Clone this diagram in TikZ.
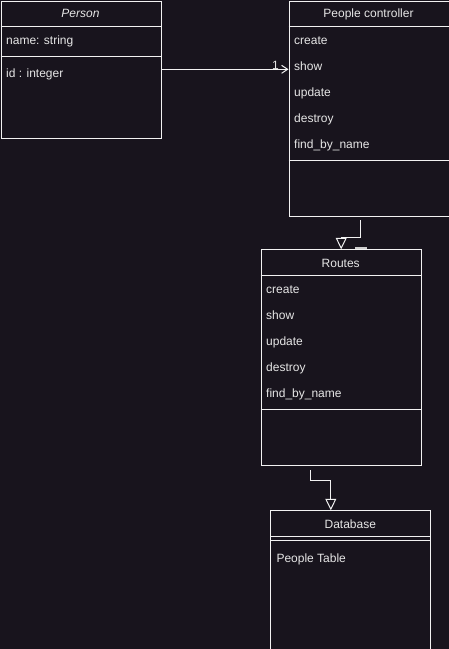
\documentclass[tikz,border=0pt]{standalone}
\usepackage{fontspec}
\setmainfont{Liberation Sans}
\usetikzlibrary{arrows.meta}
\definecolor{bg}{HTML}{18141D}
\definecolor{ln}{HTML}{F2F2F2}
\definecolor{tx}{HTML}{E6E6E6}
\definecolor{mk}{HTML}{CFCFCF}
\tikzset{
  umlbox/.style={draw=ln, line width=1pt, rectangle, inner sep=0pt, anchor=north west},
  sep/.style={draw=ln, line width=1pt},
  itemtxt/.style={text=tx, font=\fontsize{12}{14}\selectfont, inner sep=0pt, anchor=base west},
  titletxt/.style={text=tx, font=\fontsize{12}{14}\selectfont, inner sep=0pt, anchor=base},
  gen/.style={draw=ln, line width=1pt, -{Triangle[open, length=11.5pt, width=11pt, line width=1pt]}},
  assoc/.style={draw=ln, line width=1pt, -{Straight Barb[length=6pt, width=8pt, line width=1pt]}}
}
\begin{document}
\begin{tikzpicture}[x=1pt, y=-1pt]
\fill[bg] (0,0) rectangle (449,649);
\useasboundingbox (0,0) rectangle (449,649);

% Person
\node[umlbox, minimum width=160pt, minimum height=137.5pt] (person) at (0.5,0.5) {};
\draw[sep] (0.5,26.3) -- (160.5,26.3);
\draw[sep] (0.5,56.3) -- (160.5,56.3);
\node[titletxt, font=\fontsize{12}{14}\selectfont\itshape] (personT) at (80.5,17.6) {Person};
\node[itemtxt] (pname) at (6,44) {name: string};
\node[itemtxt] (pid) at (6,77.3) {id : integer};

% People controller
\node[umlbox, minimum width=160pt, minimum height=215.8pt] (pc) at (288.5,0.5) {};
\draw[sep] (288.5,26.3) -- (448.5,26.3);
\draw[sep] (288.5,160.3) -- (448.5,160.3);
\node[titletxt] (pcT) at (368.5,17.6) {People controller};
\node[itemtxt] (pc1) at (294,44.3) {create};
\node[itemtxt] (pc2) at (294,70.3) {show};
\node[itemtxt] (pc3) at (294,96.3) {update};
\node[itemtxt] (pc4) at (294,122.3) {destroy};
\node[itemtxt] (pc5) at (294,148.3) {find\_by\_name};

% Routes
\node[umlbox, minimum width=160pt, minimum height=216pt] (routes) at (260.7,249.3) {};
\draw[sep] (260.7,275.3) -- (420.7,275.3);
\draw[sep] (260.7,409.3) -- (420.7,409.3);
\node[titletxt] (routesT) at (340.7,267) {Routes};
\node[itemtxt] (r1) at (266,293) {create};
\node[itemtxt] (r2) at (266,319) {show};
\node[itemtxt] (r3) at (266,345) {update};
\node[itemtxt] (r4) at (266,371) {destroy};
\node[itemtxt] (r5) at (266,397) {find\_by\_name};

% Database
\node[umlbox, minimum width=160pt, minimum height=142pt] (db) at (270.3,510.3) {};
\draw[sep] (270.3,536) -- (430.3,536);
\draw[sep] (270.3,540) -- (430.3,540);
\node[titletxt] (dbT) at (350.3,528.3) {Database};
\node[itemtxt] (db1) at (276.3,562) {People Table};

% small mark above Routes
\fill[mk] (354.5,247) rectangle (366.5,249.3);

% connectors
\draw[assoc] ([yshift=-68.8pt]person.north east) -- ([yshift=-68.8pt]pc.north west);
\node[text=tx, font=\fontsize{12}{14}\selectfont, inner sep=0pt, anchor=base east] (mult) at (279,69.5) {1};

\coordinate (c1s) at (360.7,220);
\draw[gen] (c1s) |- ([yshift=12pt]routes.north) -- (routes.north);

\coordinate (c2s) at (310.3,470.3);
\draw[gen] (c2s) |- ([xshift=-20pt, yshift=30.3pt]db.north) -- ([xshift=-20pt]db.north);
\end{tikzpicture}
\end{document}
